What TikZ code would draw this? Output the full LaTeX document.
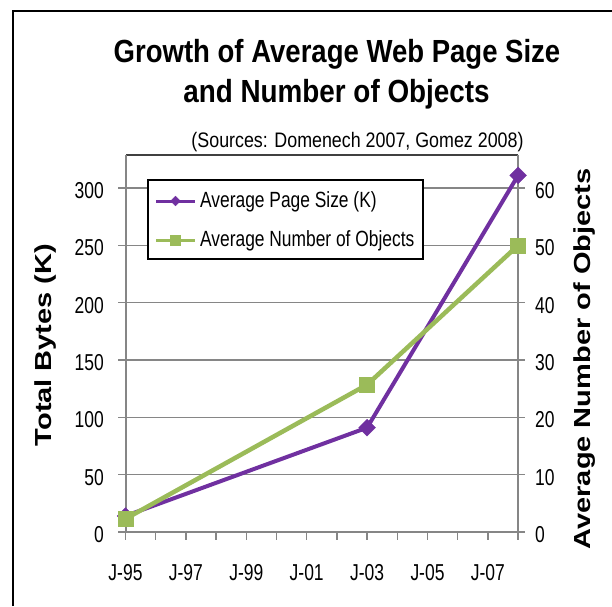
\documentclass[tikz,border=0pt]{standalone}
\usepackage{fontspec}
\usepackage{graphicx}
\setmainfont{Liberation Sans}
\usetikzlibrary{shapes.geometric}
\definecolor{pur}{HTML}{7030A0}
\definecolor{grn}{HTML}{9BBB59}
\definecolor{gridc}{HTML}{868686}
\newcommand{\myxs}[2]{\scalebox{#1}[1]{#2}}
\tikzset{
  frameline/.style={line width=2pt, black},
  gridline/.style={line width=1.2pt, gridc},
  axisline/.style={line width=1.5pt, gridc},
  topborder/.style={line width=1.5pt, black!75},
  tickline/.style={line width=1.3pt, gridc},
  ticklab/.style={inner sep=0pt, font=\fontsize{23}{26}\selectfont},
  titletext/.style={inner sep=0pt, font=\bfseries\fontsize{32}{36}\selectfont},
  srctext/.style={inner sep=0pt, font=\fontsize{21}{24}\selectfont},
  axtitle/.style={inner sep=0pt, rotate=90, font=\bfseries\fontsize{29}{32}\selectfont},
  legtext/.style={inner sep=0pt, anchor=base west, font=\fontsize{22}{26}\selectfont},
  purline/.style={line width=4pt, pur},
  grnline/.style={line width=4.5pt, grn},
  purmark/.style={diamond, fill=pur, draw=pur, inner sep=0pt, minimum size=17pt},
  grnmark/.style={rectangle, fill=grn, draw=grn, inner sep=0pt, minimum size=15pt},
  purlegmark/.style={diamond, fill=pur, draw=pur, inner sep=0pt, minimum size=10pt},
  grnlegmark/.style={rectangle, fill=grn, draw=grn, inner sep=0pt, minimum size=10pt},
  legbox/.style={draw=black, line width=1.5pt, fill=white},
}
\begin{document}
\begin{tikzpicture}[x=1pt,y=-1pt]
\useasboundingbox (0,0) rectangle (612,606);
% outer chart frame
\draw[frameline] (13,606) -- (13,11) -- (612,11);
% titles
\node[titletext, anchor=base] (title1) at (337,62) {\myxs{0.86}{Growth of Average Web Page Size}};
\node[titletext, anchor=base] (title2) at (336.5,102) {\myxs{0.87}{and Number of Objects}};
\node[srctext, anchor=base] (src) at (357.5,147.5) {\myxs{0.85}{(Sources: Domenech 2007, Gomez 2008)}};
% gridlines
\foreach \v in {50,100,150,200,250,300} {
  \draw[gridline] (126,{532-\v*1.14667}) -- (518,{532-\v*1.14667});
}
% plot top border
\draw[topborder] (126,155) -- (518,155);
% axes
\draw[axisline] (126,155) -- (126,532);
\draw[axisline] (518,155) -- (518,532);
\draw[axisline] (125,532) -- (519,532);
% left ticks and labels
\foreach \v in {0,50,100,150,200,250,300} {
  \draw[tickline] (118,{532-\v*1.14667}) -- (126,{532-\v*1.14667});
  \node[ticklab, anchor=base east] (yl\v) at (104,{532-\v*1.14667+10.5}) {\myxs{0.76}{\v}};
}
% right ticks and labels
\foreach \n in {0,10,20,30,40,50,60} {
  \draw[tickline] (518,{532-\n*5.7333}) -- (525,{532-\n*5.7333});
  \node[ticklab, anchor=base west] (yr\n) at (535,{532-\n*5.7333+10.5}) {\myxs{0.76}{\n}};
}
% bottom ticks
\foreach \k in {0,...,13} {
  \draw[tickline] ({125.5+\k*30.2},531) -- ({125.5+\k*30.2},540);
}
% x labels
\foreach \k/\t in {0/95,2/97,4/99,6/01,8/03,10/05,12/07} {
  \node[ticklab, anchor=base] (xl\t) at ({125.5+\k*30.2},580) {\myxs{0.76}{J-\t}};
}
% axis titles
\node[axtitle] (ltitle) at (46,345) {\scalebox{1}[0.8]{Total Bytes (K)}};
\node[axtitle] (rtitle) at (585,359) {\scalebox{1}[0.8]{Average Number of Objects}};
% data coordinates
\coordinate (p1) at (125.5,{532-14*1.14667});
\coordinate (p2) at (367.1,{532-91*1.14667});
\coordinate (p3) at (518.1,{532-311*1.14667});
\coordinate (g1) at (125.5,{532-2.3*5.7333});
\coordinate (g2) at (367.1,{532-25.7*5.7333});
\coordinate (g3) at (518.1,{532-50*5.7333});
% page size series
\draw[purline] (p1) -- (p2) -- (p3);
\node[purmark] (pm1) at (p1) {};
\node[purmark] (pm2) at (p2) {};
\node[purmark] (pm3) at (p3) {};
% objects series
\draw[grnline] (g1) -- (g2) -- (g3);
\node[grnmark] (gm1) at (g1) {};
\node[grnmark] (gm2) at (g2) {};
\node[grnmark] (gm3) at (g3) {};
% legend
\draw[legbox] (148,180) rectangle (423,259);
\coordinate (la1) at (156,201);
\coordinate (lb1) at (195,201);
\coordinate (la2) at (156,240);
\coordinate (lb2) at (195,240);
\draw[line width=3pt, pur] (la1) -- (lb1);
\node[purlegmark] (lpm) at (175.5,201) {};
\draw[line width=3pt, grn] (la2) -- (lb2);
\node[grnlegmark] (lgm) at (175.5,240) {};
\node[legtext] (leg1) at (200,207) {\myxs{0.79}{Average Page Size (K)}};
\node[legtext] (leg2) at (200,246.5) {\myxs{0.79}{Average Number of Objects}};
\end{tikzpicture}
\end{document}
